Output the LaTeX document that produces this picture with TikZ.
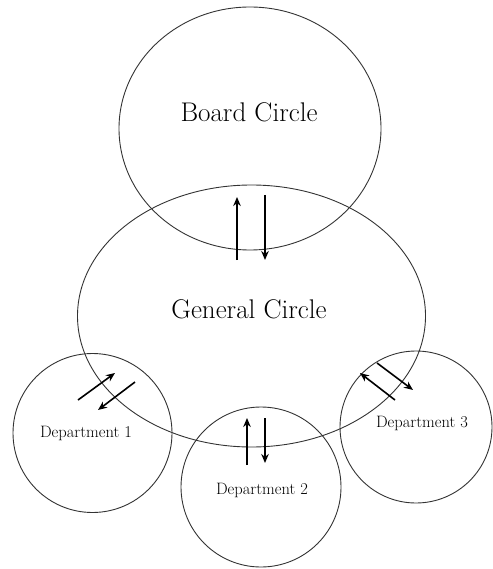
\documentclass[tikz,border=0pt]{standalone}
\usetikzlibrary{shapes.geometric,arrows.meta}
\begin{document}
\begin{tikzpicture}[x=1pt,y=-1pt,>={Stealth[length=9pt,width=7.5pt]}]
\tikzset{ring/.style={draw=black!80,line width=0.9pt,inner sep=0pt},
flow/.style={->,line width=1.6pt},
big/.style={font=\fontsize{27}{32}\selectfont},
small/.style={font=\fontsize{16.5}{20}\selectfont}}
\useasboundingbox (0,0) rectangle (492,569);

% the two big circles
\node(board)[ring,ellipse,minimum width=262pt,minimum height=243pt] at (250,128.5){};
\node(general)[ring,ellipse,minimum width=348pt,minimum height=262pt] at (251.5,316){};
\node(boardtxt)[big] at (249,112){Board Circle};
\node(generaltxt)[big] at (249,309){General Circle};

% departments
\foreach \x/\y/\r/\tx/\ty[count=\n] in {92.5/433/159/86/433,261/487/160/262/490,416/427/152/422/423}
{\node(dep\n)[ring,circle,minimum size=\r pt] at (\x,\y){};
\node(dep\n txt)[small] at (\tx,\ty){Department \n};}

% arrow ends
\coordinate(bg1) at (237,260); \coordinate(bg2) at (237,197);
\coordinate(bg3) at (265,195); \coordinate(bg4) at (265,260);
\coordinate(da1) at (78,400);  \coordinate(da2) at (115,373);
\coordinate(da3) at (135,382); \coordinate(da4) at (98,410);
\coordinate(db1) at (247,465); \coordinate(db2) at (247,418);
\coordinate(db3) at (265,418); \coordinate(db4) at (265,463);
\coordinate(dc1) at (395,400); \coordinate(dc2) at (360,373);
\coordinate(dc3) at (377,363); \coordinate(dc4) at (413,390);

\foreach \p in {bg,da,db,dc}
{\draw[flow](\p1)--(\p2);
\draw[flow](\p3)--(\p4);}

\end{tikzpicture}
\end{document}
